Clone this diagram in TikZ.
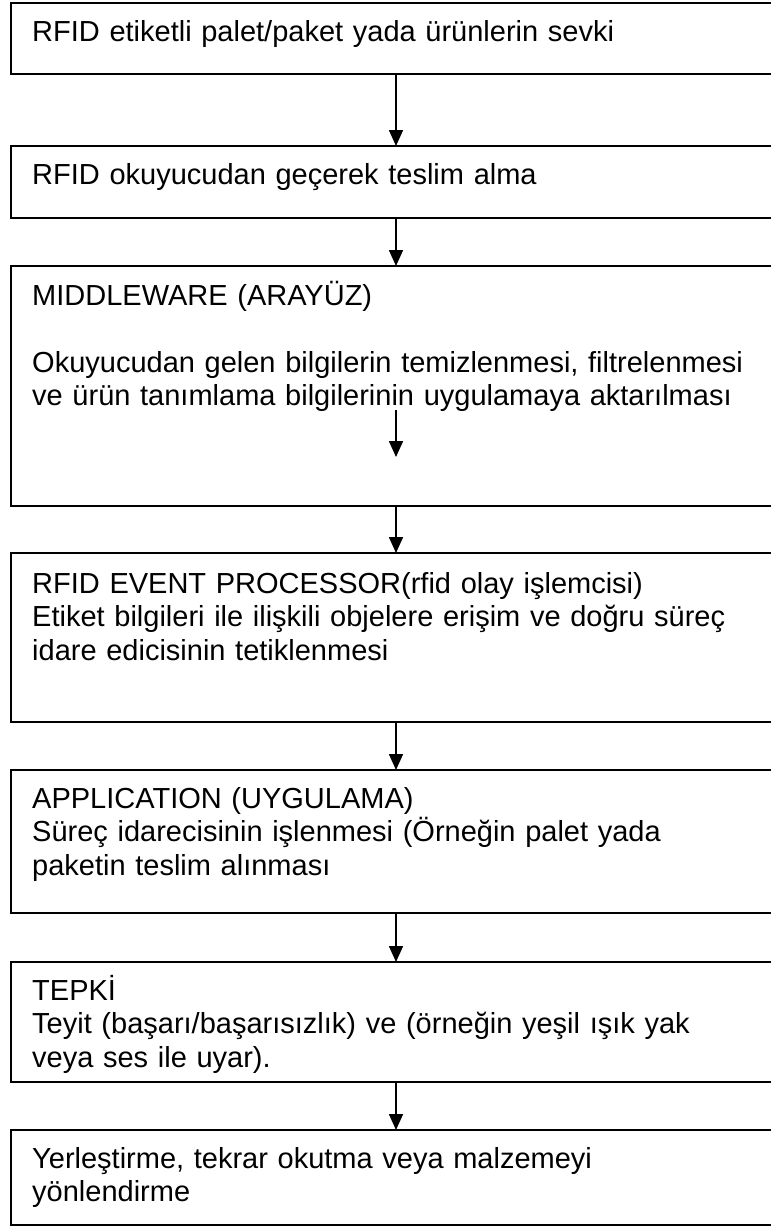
\documentclass[tikz,border=0pt]{standalone}
\usepackage{fontspec}
\setmainfont{Liberation Sans}
\usetikzlibrary{arrows.meta}

\tikzset{
  stagebox/.style={draw=black, line width=2pt, rectangle, anchor=north west,
    minimum width=790pt, inner sep=0pt, outer sep=0pt},
  stagetext/.style={anchor=base west, inner sep=0pt, text width=735pt, align=left,
    font=\fontsize{29}{33.5}\selectfont},
  flow/.style={line width=1.6pt, -{Triangle[length=16pt,width=14pt]}}
}

\begin{document}
\begin{tikzpicture}[x=1pt, y=-1pt]
  \useasboundingbox (0,0) rectangle (771,1227);
  \clip (0,0) rectangle (771,1227);
  \fill[white] (0,0) rectangle (771,1227);

  % stage frames
  \node[stagebox, minimum height=71pt]  (b1) at (11,3)    {};
  \node[stagebox, minimum height=72pt]  (b2) at (11,146)  {};
  \node[stagebox, minimum height=240pt] (b3) at (11,266)  {};
  \node[stagebox, minimum height=169pt] (b4) at (11,553)  {};
  \node[stagebox, minimum height=143pt] (b5) at (11,770)  {};
  \node[stagebox, minimum height=120pt] (b6) at (11,962)  {};
  \node[stagebox, minimum height=95pt]  (b7) at (11,1130) {};

  % stage texts
  \node[stagetext] (t1) at (32,41)   {RFID etiketli palet/paket yada ürünlerin sevki};
  \node[stagetext] (t2) at (32,184)  {RFID okuyucudan geçerek teslim alma};
  \node[stagetext] (t3) at (32,305)  {MIDDLEWARE (ARAYÜZ)\\[33.5pt]
    Okuyucudan gelen bilgilerin temizlenmesi, filtrelenmesi\\
    ve ürün tanımlama bilgilerinin uygulamaya aktarılması};
  \node[stagetext] (t4) at (32,593)  {RFID EVENT PROCESSOR(rfid olay işlemcisi)\\
    Etiket bilgileri ile ilişkili objelere erişim ve doğru süreç\\
    idare edicisinin tetiklenmesi};
  \node[stagetext] (t5) at (32,808)  {APPLICATION (UYGULAMA)\\
    Süreç idarecisinin işlenmesi (Örneğin palet yada\\
    paketin teslim alınması};
  \node[stagetext] (t6) at (32,1000) {TEPKİ\\
    Teyit (başarı/başarısızlık) ve (örneğin yeşil ışık yak\\
    veya ses ile uyar).};
  \node[stagetext] (t7) at (32,1168) {Yerleştirme, tekrar okutma veya malzemeyi\\
    yönlendirme};

  % flow axis and inner arrow ends
  \coordinate (ax) at (396,0);
  \coordinate (m1) at (396,410);
  \coordinate (m2) at (396,457);

  % connectors
  \draw[flow] (b1.south -| ax) -- (b2.north -| ax);
  \draw[flow] (b2.south -| ax) -- (b3.north -| ax);
  \draw[flow] (m1) -- (m2);
  \draw[flow] (b3.south -| ax) -- (b4.north -| ax);
  \draw[flow] (b4.south -| ax) -- (b5.north -| ax);
  \draw[flow] (b5.south -| ax) -- (b6.north -| ax);
  \draw[flow] (b6.south -| ax) -- (b7.north -| ax);
\end{tikzpicture}
\end{document}
